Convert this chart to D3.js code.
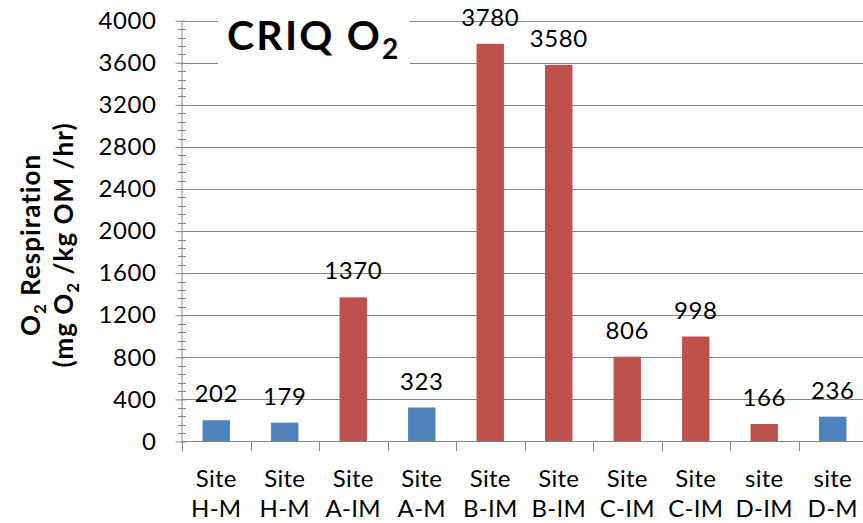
<!DOCTYPE html>
<html>
<head>
<meta charset="utf-8">
<script src="https://cdn.jsdelivr.net/npm/d3@7"></script>
<style>
  body { margin: 0; background: #fff; }
  svg { display: block; font-family: Lato, "Open Sans", sans-serif; }
</style>
</head>
<body>
<div id="container"></div>
<script>
// chart values
const sites = ["Site", "Site", "Site", "Site", "Site", "Site", "Site", "Site", "site", "site"];
const codes = ["H-M", "H-M", "A-IM", "A-M", "B-IM", "B-IM", "C-IM", "C-IM", "D-IM", "D-M"];
const groups = ["M", "M", "IM", "M", "IM", "IM", "IM", "IM", "IM", "M"];
const values = [202, 179, 1370, 323, 3780, 3580, 806, 998, 166, 236];
const yTicks = [0, 400, 800, 1200, 1600, 2000, 2400, 2800, 3200, 3600, 4000];

const width = 863;
const height = 523;

const svg = d3.select("#container")
  .append("svg")
  .attr("width", width)
  .attr("height", height);

const x = d3.scaleBand()
  .domain(d3.range(values.length))
  .range([182, 867])
  .paddingInner(0.6)
  .paddingOuter(0.3);

const y = d3.scaleLinear()
  .domain([0, 4000])
  .range([441.5, 20.7]);

const color = d3.scaleOrdinal()
  .domain(["M", "IM"])
  .range(["#4f81bd", "#c0504d"]);

const gridColor = "#868686";

// gridlines
svg.append("g")
  .selectAll("line")
  .data(yTicks.filter(d => d > 0))
  .join("line")
    .attr("x1", 182)
    .attr("x2", width)
    .attr("y1", d => Math.round(y(d)) + 0.5)
    .attr("y2", d => Math.round(y(d)) + 0.5)
    .attr("stroke", gridColor)
    .attr("stroke-width", 1);

// minor ticks every 80
const minor = d3.range(0, 4001, 80).filter(d => d % 400 !== 0);
svg.append("g")
  .selectAll("line")
  .data(minor)
  .join("line")
    .attr("x1", 178)
    .attr("x2", 186)
    .attr("y1", d => Math.round(y(d)) + 0.5)
    .attr("y2", d => Math.round(y(d)) + 0.5)
    .attr("stroke", gridColor);

// y axis
const yAxis = svg.append("g")
  .attr("transform", "translate(181.5,0)")
  .call(d3.axisLeft(y).tickValues(yTicks).tickSize(6).tickSizeOuter(0).tickFormat(d3.format("d")));
yAxis.select(".domain").attr("stroke", gridColor);
yAxis.selectAll(".tick line").attr("stroke", gridColor).attr("x2", -6).attr("x1", 4);
yAxis.selectAll(".tick text")
  .attr("x", -25)
  .attr("font-size", 24)
  .attr("letter-spacing", 0.6)
  .attr("font-family", "Lato, sans-serif")
  .attr("fill", "#000");

// bars
svg.append("g")
  .selectAll("rect")
  .data(values)
  .join("rect")
    .attr("x", (d, i) => x(i))
    .attr("y", d => y(d))
    .attr("width", x.bandwidth())
    .attr("height", d => y(0) - y(d))
    .attr("fill", (d, i) => color(groups[i]));

// value labels
svg.append("g")
  .selectAll("text")
  .data(values)
  .join("text")
    .attr("x", (d, i) => x(i) + x.bandwidth() / 2)
    .attr("y", d => y(d) - 18)
    .attr("text-anchor", "middle")
    .attr("font-size", 24)
    .attr("letter-spacing", 0.6)
    .text(d => d);

// x axis
const band = (867 - 182) / values.length;
svg.append("line")
  .attr("x1", 182).attr("x2", width)
  .attr("y1", 441.5).attr("y2", 441.5)
  .attr("stroke", gridColor);
svg.append("g")
  .selectAll("line")
  .data(d3.range(values.length + 1))
  .join("line")
    .attr("x1", i => Math.round(182 + i * band) + 0.5)
    .attr("x2", i => Math.round(182 + i * band) + 0.5)
    .attr("y1", 441.5)
    .attr("y2", 451)
    .attr("stroke", gridColor);

const xLab = svg.append("g")
  .selectAll("text")
  .data(values)
  .join("text")
    .attr("text-anchor", "middle")
    .attr("font-size", 24)
    .attr("letter-spacing", 0.3)
    .attr("transform", (d, i) => `translate(${x(i) + x.bandwidth() / 2},0)`);
xLab.append("tspan").attr("x", 0).attr("y", 487).text((d, i) => sites[i]);
xLab.append("tspan").attr("x", 0).attr("y", 517).text((d, i) => codes[i]);

// y axis title
const yTitle = svg.append("text")
  .attr("transform", "translate(0,245) rotate(-90)")
  .attr("text-anchor", "middle")
  .attr("font-weight", "bold")
  .attr("letter-spacing", 1)
  .attr("font-size", 26);
const l1 = yTitle.append("tspan").attr("x", 0).attr("y", 40);
l1.append("tspan").text("O");
l1.append("tspan").attr("font-size", 17).attr("dy", 6).text("2");
l1.append("tspan").attr("dy", -6).text(" Respiration");
const l2 = yTitle.append("tspan").attr("x", 0).attr("y", 73);
l2.append("tspan").text("(mg O");
l2.append("tspan").attr("font-size", 17).attr("dy", 6).text("2");
l2.append("tspan").attr("dy", -6).text(" /kg OM /hr)");

// chart title with white box
svg.append("rect")
  .attr("x", 218).attr("y", 10)
  .attr("width", 192).attr("height", 60)
  .attr("fill", "#fff");
const title = svg.append("text")
  .attr("x", 227)
  .attr("y", 50)
  .attr("font-weight", "bold")
  .attr("letter-spacing", 2.2)
  .attr("font-size", 41);
title.append("tspan").text("CRIQ O");
title.append("tspan").attr("font-size", 28).attr("dy", 9).text("2");
</script>
</body>
</html>
